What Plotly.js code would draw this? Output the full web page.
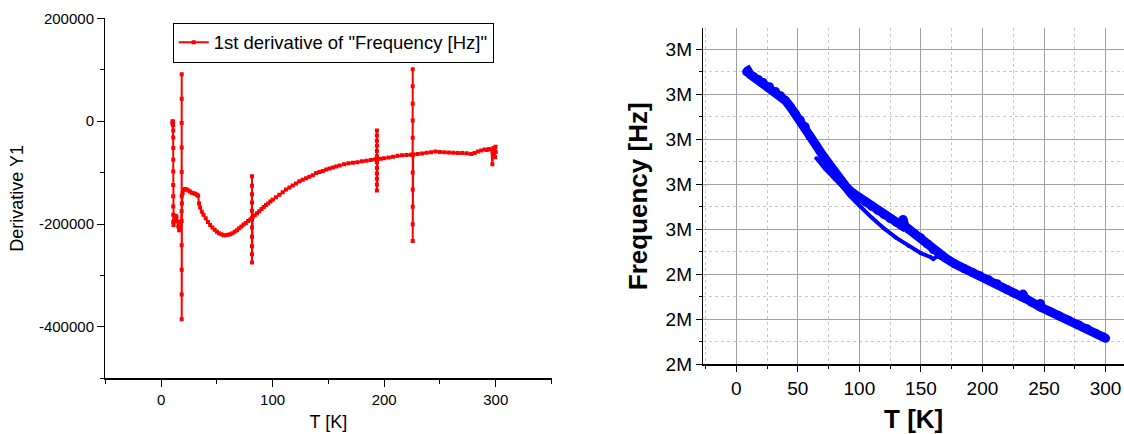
<!DOCTYPE html>
<html>
<head>
<meta charset="utf-8">
<script src="https://cdn.plot.ly/plotly-3.0.1.min.js"></script>
<style>html,body{margin:0;padding:0;background:#fff;}#chart{width:1124px;height:434px;}</style>
</head>
<body>
<div id="chart"></div>
<script>
// ---------- Left chart: 1st derivative of Frequency vs T ----------
const seriesName = '1st derivative of "Frequency [Hz]"';
const derivT = [
  10.2,10.4,10.5,10.6,10.7,
  10.9,10.9,10.9,10.9,10.9,10.9,10.9,10.9,10.9,10.9,
  11.2,11.6,12.2,13.0,13.8,14.6,15.4,16.2,17.0,17.8,18.4,
  18.5,18.5,18.5,18.5,18.5,18.5,18.5,18.5,18.5,18.5,18.5,
  18.7,19.3,20.2,21.5,23,24.5,26,27.5,29,30.5,32,33.2,34,35,36.5,38,40,42,44,46,48,50,52,54,56,58,60,62,64,66,68,70,72,74,76,78,80,81.4,
  81.5,81.5,81.5,81.5,81.5,81.5,81.5,81.5,81.5,81.5,81.5,
  82,84,86,88,90,92,94,96,98,100,103,106,109,112,115,118,121,124,127,130,133,136,139,142,145,148,151,154,157,160,164,168,172,176,180,184,188,192,193.4,
  193.5,193.5,193.5,193.5,193.5,193.5,193.5,193.5,193.5,193.5,193.5,193.5,
  194,197,200,204,208,212,216,220,224,225.5,
  225.6,225.6,225.6,225.6,225.6,225.6,225.6,225.6,225.6,225.6,225.6,
  226,230,234,238,242,246,250,254,258,262,266,270,274,278,281,284,287,290,292,294,296,297,297.5,298,299,299.5,299.8,300
];
const derivY1 = [
  -3000,0,-5000,-1000,-8000,
  -18000,-32000,-52000,-75000,-98000,-124000,-146000,-166000,-182000,-196000,
  -202000,-194000,-188000,-184000,-186000,-195000,-205000,-212000,-208000,-196000,-175000,
  91000,43700,-3700,-51000,-99000,-146000,-194000,-241500,-289000,-337000,-385000,
  -160000,-140000,-134000,-132000,-133000,-135000,-137000,-139000,-140000,-141000,-143000,-145000,-160000,-168000,-176000,-182000,-189000,-196000,-202000,-207000,-211000,-215000,-218000,-220000,-222000,-222000,-221000,-220000,-218000,-215000,-212000,-208000,-205000,-201000,-198000,-194000,-191000,-189000,
  -107000,-125500,-142000,-158000,-174000,-191000,-207000,-225000,-243000,-259000,-275000,
  -187000,-183000,-179000,-175000,-171000,-167000,-163000,-160000,-156000,-153000,-148000,-143000,-138000,-133000,-129000,-125000,-121000,-117000,-114000,-111000,-108000,-105000,-101000,-99000,-97000,-94000,-92000,-90000,-88000,-86000,-84000,-82000,-81000,-80000,-78000,-77000,-75500,-74000,-73500,
  -18000,-28000,-38000,-48000,-58000,-68000,-80000,-91000,-101600,-112000,-123000,-135000,
  -74000,-73000,-72000,-70500,-69000,-67500,-66500,-66000,-65500,-65000,
  101000,67800,34000,1400,-32400,-65600,-99600,-132800,-166600,-200400,-233000,
  -65000,-64000,-63000,-61500,-60500,-59000,-60000,-60500,-61000,-61500,-62000,-62000,-62500,-64000,-62000,-59000,-57000,-55000,-56000,-54000,-55000,-84000,-62000,-52000,-56000,-70000,-50000,-60000
];
const leftXTicks = [0, 100, 200, 300];
const leftYTicks = [-400000, -200000, 0, 200000];
const leftYTickText = ['-400000', '-200000', '0', '200000'];

// ---------- Right chart: Frequency vs T ----------
const run1T = [8.4,9.5,11,14,18,22,27,32,36,40,44,48,52,56,60,65,70,75,80,85,90,95,100,105,110,115,120,125,130,134,135.5,137,140,145,150,155,160,165,170,177,185,192,198,205,212,220,226,232,233,234,240,246,247,248,255,262,270,278,285,292,298,300];
const run1F = [2850000,2852000,2845000,2839000,2833000,2826000,2817000,2806000,2797000,2786000,2772000,2757000,2743000,2728000,2706000,2686000,2665000,2646000,2627000,2609000,2592000,2580000,2570000,2561000,2551000,2542000,2533000,2524000,2516000,2509000,2522000,2507000,2500000,2490000,2481000,2468000,2455000,2446000,2436000,2424000,2413000,2404000,2397000,2388000,2379000,2366000,2358000,2350000,2356000,2348000,2338000,2329000,2335000,2326000,2317000,2308000,2298000,2288000,2279000,2269000,2261000,2258000];
const run2T = [300,290,280,270,260,250,240,230,220,210,200,190,180,170,163,160,158,150,140,130,120,110,100,92,86,80,72,66.4,65];
const run2F = [2259000,2272000,2287000,2300000,2313000,2325000,2339000,2352000,2367000,2381000,2395000,2407000,2419000,2432000,2440000,2434000,2438000,2447000,2463000,2481000,2502000,2526000,2553000,2575000,2595000,2612000,2635000,2654000,2658000];
const rightXTicks = [0, 50, 100, 150, 200, 250, 300];
const rightYTicks = [2200000, 2300000, 2400000, 2500000, 2600000, 2700000, 2800000, 2900000];
const rightYTickText = ['2M', '2M', '2M', '3M', '3M', '3M', '3M', '3M'];

const FONT = 'Arial, "Liberation Sans", sans-serif';
const W = 1124, H = 434;
const px = v => v / W;
const py = v => 1 - v / H;

const traces = [
  {
    x: derivT, y: derivY1, name: seriesName, type: 'scatter', mode: 'lines+markers',
    line: {color: '#ff0000', width: 2},
    marker: {color: '#ff0000', size: 4, symbol: 'square'},
    xaxis: 'x', yaxis: 'y', showlegend: true
  },
  {
    x: run1T, y: run1F, name: 'Frequency [Hz]', type: 'scatter', mode: 'lines+markers',
    line: {color: '#0000ff', width: 9},
    marker: {color: '#0000ff', size: 9, symbol: 'circle', line: {width: 0}},
    xaxis: 'x2', yaxis: 'y2', showlegend: false
  },
  {
    x: run2T, y: run2F, name: 'Frequency [Hz] (return)', type: 'scatter', mode: 'lines+markers',
    line: {color: '#0000ff', width: 4},
    marker: {color: '#0000ff', size: 4, symbol: 'circle', line: {width: 0}},
    xaxis: 'x2', yaxis: 'y2', showlegend: false
  }
];

const layout = {
  width: W, height: H, autosize: false,
  margin: {l: 0, r: 0, t: 0, b: 0, pad: 0},
  paper_bgcolor: '#ffffff', plot_bgcolor: 'rgba(0,0,0,0)',
  font: {family: FONT, color: '#000'},
  showlegend: true,
  legend: {
    x: px(172.7), y: py(22.7), xanchor: 'left', yanchor: 'top',
    bordercolor: '#000', borderwidth: 1, bgcolor: '#fff',
    font: {family: FONT, size: 18.5, color: '#000'}, tracegroupgap: 0
  },
  xaxis: {
    domain: [px(105.3), px(551.5)], anchor: 'y', range: [-50, 350],
    tickmode: 'array', tickvals: leftXTicks, ticks: 'outside', ticklen: 7, tickwidth: 1, tickcolor: '#000',
    minor: {tickmode: 'linear', tick0: -50, dtick: 50, ticks: 'outside', ticklen: 4, tickwidth: 1, tickcolor: '#000', showgrid: false},
    showline: true, linecolor: '#000', linewidth: 1.3, zeroline: false, showgrid: false,
    tickfont: {family: FONT, size: 15, color: '#000'},
    title: {text: 'T [K]', font: {family: FONT, size: 18, color: '#000'}, standoff: 8},
    automargin: false
  },
  yaxis: {
    domain: [1 - 378.3 / H, 1 - 18.3 / H], anchor: 'x', range: [-500000, 200000],
    tickmode: 'array', tickvals: leftYTicks, ticktext: leftYTickText,
    ticks: 'outside', ticklen: 7, tickwidth: 1, tickcolor: '#000',
    minor: {tickmode: 'linear', tick0: -500000, dtick: 100000, ticks: 'outside', ticklen: 4, tickwidth: 1, tickcolor: '#000', showgrid: false},
    showline: true, linecolor: '#000', linewidth: 1.3, zeroline: false, showgrid: false,
    tickfont: {family: FONT, size: 15, color: '#000'},
    title: {text: 'Derivative Y1', font: {family: FONT, size: 18, color: '#000'}, standoff: 10},
    automargin: false
  },
  xaxis2: {
    domain: [px(703.3), 1], anchor: 'y2', range: [-26.8, 315.0],
    tickmode: 'array', tickvals: rightXTicks, ticks: 'outside', ticklen: 6, tickwidth: 1, tickcolor: '#000',
    minor: {tickmode: 'linear', tick0: -25, dtick: 25, ticks: 'outside', ticklen: 3, tickwidth: 1, tickcolor: '#000',
            showgrid: true, gridcolor: '#c8c8c8', gridwidth: 1, griddash: 'dot'},
    showgrid: true, gridcolor: '#a0a0a0', gridwidth: 1,
    showline: true, linecolor: '#000', linewidth: 1.5, zeroline: false,
    tickfont: {family: FONT, size: 19, color: '#000'},
    title: {text: '<b>T [K]</b>', font: {family: FONT, size: 26, color: '#000'}, standoff: 12},
    automargin: false
  },
  xaxis3: {
    overlaying: 'x2', side: 'top', anchor: 'y2', range: [-26.8, 315.0],
    tickmode: 'array', tickvals: rightXTicks, ticks: 'inside', ticklen: 6, tickwidth: 1, tickcolor: '#333',
    minor: {tickmode: 'linear', tick0: -25, dtick: 25, ticks: 'inside', ticklen: 3, tickwidth: 1, tickcolor: '#333', showgrid: false},
    showticklabels: false, showgrid: false, zeroline: false,
    showline: true, linecolor: '#555', linewidth: 1.5
  },
  yaxis2: {
    domain: [1 - 364.3 / H, 1 - 28.3 / H], anchor: 'x2', range: [2200000, 2946700],
    tickmode: 'array', tickvals: rightYTicks, ticktext: rightYTickText,
    ticks: 'outside', ticklen: 6, tickwidth: 1, tickcolor: '#000',
    minor: {tickmode: 'linear', tick0: 2150000, dtick: 50000, ticks: 'outside', ticklen: 3, tickwidth: 1, tickcolor: '#000',
            showgrid: true, gridcolor: '#c8c8c8', gridwidth: 1, griddash: 'dot'},
    showgrid: true, gridcolor: '#a0a0a0', gridwidth: 1,
    showline: true, linecolor: '#000', linewidth: 1.5, zeroline: false,
    tickfont: {family: FONT, size: 19, color: '#000'},
    title: {text: '<b>Frequency [Hz]</b>', font: {family: FONT, size: 26, color: '#000'}, standoff: 10},
    automargin: false
  }
};

Plotly.newPlot('chart', traces, layout, {staticPlot: true, displayModeBar: false});
</script>
</body>
</html>
